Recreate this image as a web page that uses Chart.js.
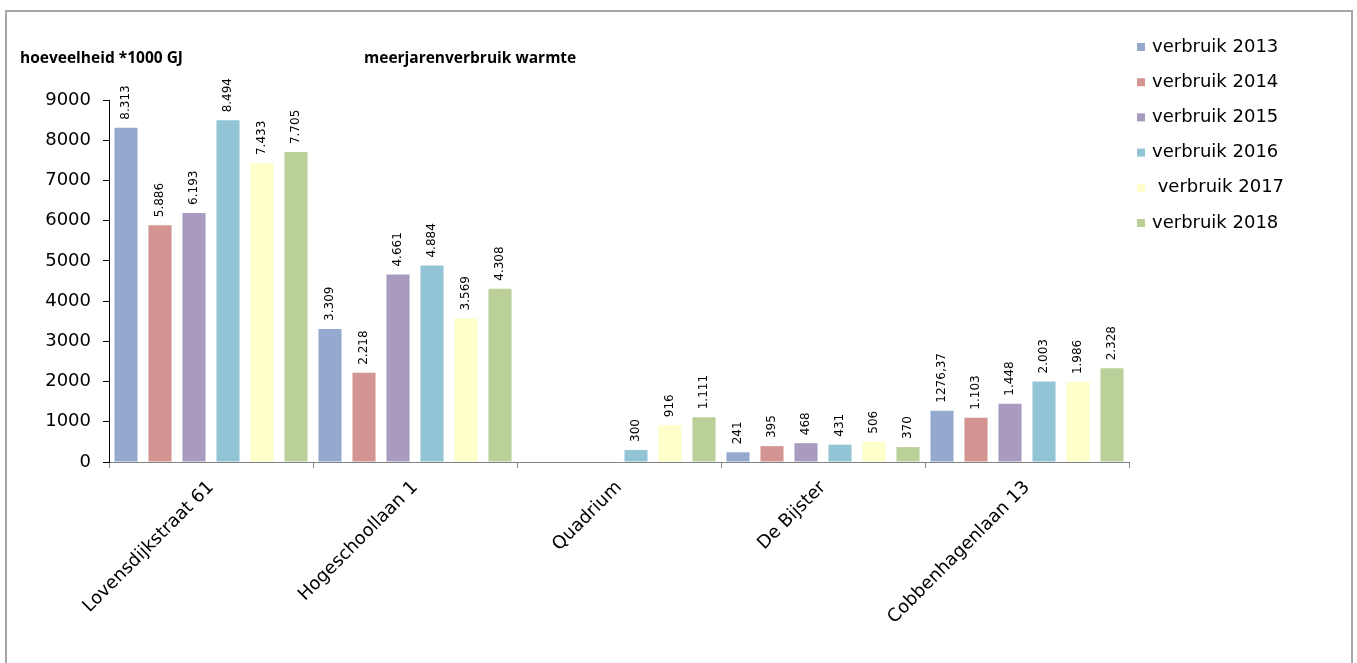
<!DOCTYPE html>
<html>
<head>
<meta charset="utf-8">
<title>meerjarenverbruik warmte</title>
<script src="https://cdn.jsdelivr.net/npm/chart.js@4/dist/chart.umd.min.js"></script>
<style>
    body { margin: 0; background: #fff; }
    #wrap { position: relative; width: 1357px; height: 663px; overflow: hidden; }
    #frame {
        position: absolute; left: 5px; top: 10px; width: 1348px; height: 700px;
        border: 2px solid #a6a6a6; box-sizing: border-box;
    }
    .caption {
        position: absolute; top: 46px; font: bold 15.5px "Open Sans", Lato, sans-serif; color: #000;
    }
</style>
</head>
<body>
<div id="wrap">
    <div id="frame"></div>
    <div class="caption" style="left:20px">hoeveelheid *1000 GJ</div>
    <div class="caption" style="left:364px">meerjarenverbruik warmte</div>
    <canvas id="chart"></canvas>
</div>
<script>
// locations and yearly heat consumption (*1000 GJ)
const locaties = ['Lovensdijkstraat 61', 'Hogeschoollaan 1', 'Quadrium', 'De Bijster', 'Cobbenhagenlaan 13'];
const jaren = ['verbruik 2013', 'verbruik 2014', 'verbruik 2015', 'verbruik 2016', ' verbruik 2017', 'verbruik 2018'];
const verbruik2013 = [8313, 3309, null, 241, 1276.37];
const verbruik2014 = [5886, 2218, null, 395, 1103];
const verbruik2015 = [6193, 4661, null, 468, 1448];
const verbruik2016 = [8494, 4884, 300, 431, 2003];
const verbruik2017 = [7433, 3569, 916, 506, 1986];
const verbruik2018 = [7705, 4308, 1111, 370, 2328];
const kleuren = ['#95a9cf', '#d49592', '#a99bbf', '#92c4d5', '#ffffcc', '#bbd099'];
const yMin = 0, yMax = 9000, yStap = 1000;

const reeksen = [verbruik2013, verbruik2014, verbruik2015, verbruik2016, verbruik2017, verbruik2018];

// Dutch number style: 8.313, decimals with a comma
function formatWaarde(v) {
    if (Number.isInteger(v)) return String(v).replace(/\B(?=(\d{3})+(?!\d))/g, '.');
    return String(v).replace('.', ',');
}

// rotated value labels above every bar
const waardeLabels = {
    id: 'waardeLabels',
    afterDatasetsDraw(chart) {
        const ctx = chart.ctx;
        ctx.save();
        ctx.font = '12px "DejaVu Sans", Verdana, sans-serif';
        ctx.fillStyle = '#000';
        ctx.textAlign = 'left';
        ctx.textBaseline = 'middle';
        chart.data.datasets.forEach((ds, i) => {
            const meta = chart.getDatasetMeta(i);
            meta.data.forEach((bar, j) => {
                const v = ds.data[j];
                if (v === null || v === undefined) return;
                ctx.save();
                ctx.translate(bar.x, bar.y - 8);
                ctx.rotate(-Math.PI / 2);
                ctx.fillText(formatWaarde(v), 0, 0);
                ctx.restore();
            });
        });
        ctx.restore();
    }
};

// legend on the right side, fixed rows
const legendaRechts = {
    id: 'legendaRechts',
    afterDraw(chart) {
        const ctx = chart.ctx;
        ctx.save();
        ctx.font = '18px "DejaVu Sans", Verdana, sans-serif';
        ctx.textBaseline = 'middle';
        chart.data.datasets.forEach((ds, i) => {
            const y = 47 + i * 35.2;
            ctx.fillStyle = ds.backgroundColor;
            ctx.fillRect(1137, y - 4, 8, 8);
            ctx.fillStyle = '#000';
            ctx.fillText(ds.label, 1152, y);
        });
        ctx.restore();
    }
};

const ctx = document.getElementById('chart').getContext('2d');
new Chart(ctx, {
    type: 'bar',
    data: {
        labels: locaties,
        datasets: reeksen.map((d, i) => ({
            label: jaren[i],
            data: d,
            backgroundColor: kleuren[i],
            barPercentage: 0.68,
            categoryPercentage: 1.0
        }))
    },
    options: {
        responsive: true,
        maintainAspectRatio: false,
        animation: false,
        layout: { padding: { left: 0, right: 228, top: 100, bottom: 0 } },
        plugins: {
            legend: { display: false },
            tooltip: { enabled: false }
        },
        scales: {
            x: {
                grid: { display: true, drawOnChartArea: false, offset: true, tickLength: 6, color: '#808080' },
                border: { color: '#808080' },
                ticks: {
                    minRotation: 45,
                    maxRotation: 45,
                    padding: 9,
                    color: '#000',
                    font: { family: '"DejaVu Sans", Verdana, sans-serif', size: 18 }
                },
                afterFit(scale) { scale.height = 201; }
            },
            y: {
                min: yMin,
                max: yMax,
                ticks: {
                    stepSize: yStap,
                    padding: 12,
                    color: '#000',
                    font: { family: '"DejaVu Sans", Verdana, sans-serif', size: 18 },
                    callback: v => String(v)
                },
                grid: { drawOnChartArea: false, tickLength: 6, color: '#000' },
                border: { color: '#000' },
                afterFit(scale) { scale.width = 109; }
            }
        }
    },
    plugins: [waardeLabels, legendaRechts]
});
</script>
</body>
</html>
